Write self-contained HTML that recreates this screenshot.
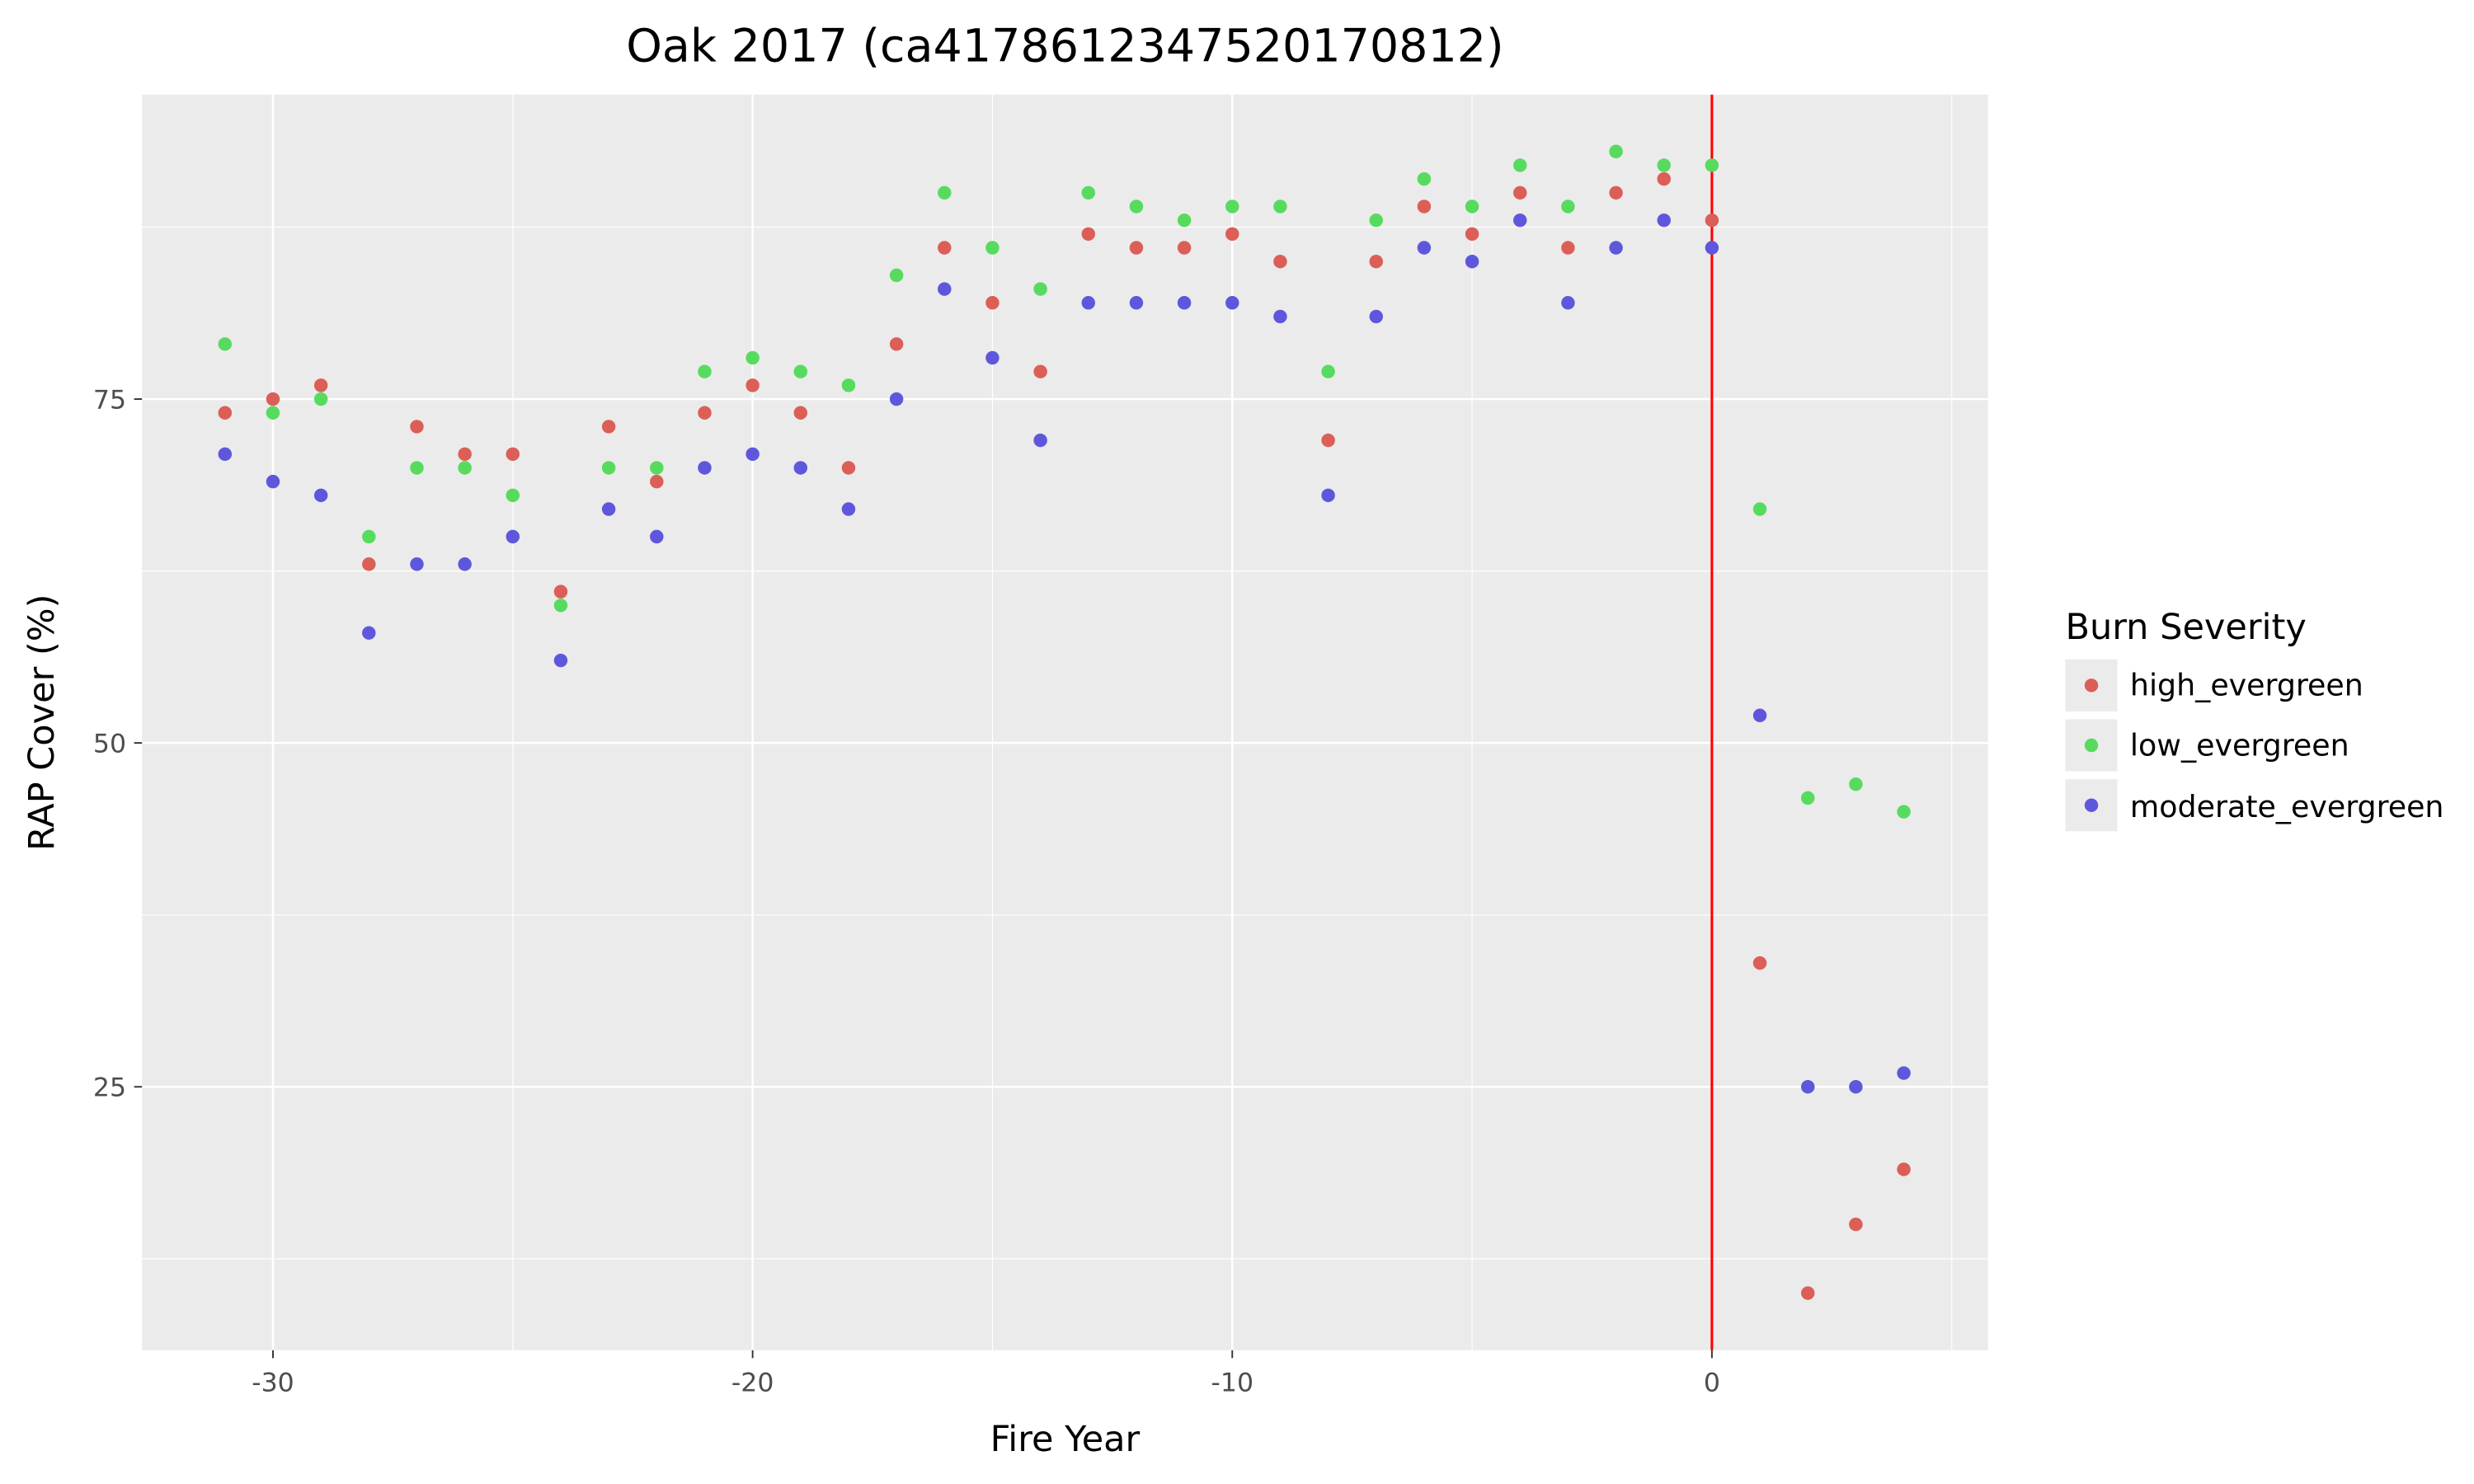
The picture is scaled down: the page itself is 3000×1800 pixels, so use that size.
<!DOCTYPE html>
<html><head><meta charset="utf-8"><style>html,body{margin:0;padding:0;background:#fff}svg{display:block}</style></head>
<body>
<svg id="s" xmlns="http://www.w3.org/2000/svg" width="3000" height="1800" viewBox="0 0 1568 940.8" preserveAspectRatio="none" font-family="DejaVu Sans, Liberation Sans, sans-serif">
<rect width="1568" height="941" fill="#fff"/>
<rect x="90" y="60" width="1170" height="796" fill="#ebebeb"/>
<g id="grid"></g>
<line x1="1085" y1="60" x2="1085" y2="856" stroke="#ff0000" stroke-width="1.6"/>
<g id="pts"></g>
<g font-size="16.5" fill="#4d4d4d" text-anchor="middle">
<text x="173" y="882">-30</text><text x="477" y="882">-20</text><text x="781" y="882">-10</text><text x="1085" y="882">0</text>
</g>
<g font-size="16.5" fill="#4d4d4d" text-anchor="end">
<text x="80" y="259">75</text><text x="80" y="477">50</text><text x="80" y="695">25</text>
</g>
<g stroke="#333" stroke-width="1">
<line x1="173" y1="856" x2="173" y2="861"/><line x1="477" y1="856" x2="477" y2="861"/><line x1="781" y1="856" x2="781" y2="861"/><line x1="1085" y1="856" x2="1085" y2="861"/>
<line x1="85" y1="253" x2="90" y2="253"/><line x1="85" y1="471" x2="90" y2="471"/><line x1="85" y1="689" x2="90" y2="689"/>
</g>
<text x="675" y="920" font-size="22.5" text-anchor="middle" fill="#000">Fire Year</text>
<text x="0" y="0" font-size="22.5" text-anchor="middle" fill="#000" transform="translate(34,458) rotate(-90)">RAP Cover (%)</text>
<text x="675" y="39" font-size="29" text-anchor="middle" fill="#000">Oak 2017 (ca4178612347520170812)</text>
<text x="1309" y="405" font-size="22.5" fill="#000">Burn Severity</text>
<rect x="1309" y="418" width="33" height="33" fill="#ebebeb"/>
<rect x="1309" y="456" width="33" height="33" fill="#ebebeb"/>
<rect x="1309" y="494" width="33" height="33" fill="#ebebeb"/>
<circle cx="1325.5" cy="434.5" r="4.3" fill="#db5f57"/>
<circle cx="1325.5" cy="472.5" r="4.3" fill="#57db5f"/>
<circle cx="1325.5" cy="510.5" r="4.3" fill="#5f57db"/>
<g font-size="19" fill="#000">
<text x="1350" y="441">high_evergreen</text>
<text x="1350" y="479">low_evergreen</text>
<text x="1350" y="518">moderate_evergreen</text>
</g>
</svg>
<script>
var X=v=>1085+30.4*v, Y=v=>471-(v-50)*8.72;
var g=document.getElementById('grid'),h='';
[12.5,37.5,62.5,87.5].forEach(v=>h+='<line x1="90" x2="1260" y1="'+Y(v)+'" y2="'+Y(v)+'" stroke="#fff" stroke-width="0.6"/>');
[-25,-15,-5,5].forEach(v=>h+='<line y1="60" y2="856" x1="'+X(v)+'" x2="'+X(v)+'" stroke="#fff" stroke-width="0.6"/>');
[25,50,75].forEach(v=>h+='<line x1="90" x2="1260" y1="'+Y(v)+'" y2="'+Y(v)+'" stroke="#fff" stroke-width="1.3"/>');
[-30,-20,-10,0].forEach(v=>h+='<line y1="60" y2="856" x1="'+X(v)+'" x2="'+X(v)+'" stroke="#fff" stroke-width="1.3"/>');
g.innerHTML=h;
var hi=[74,75,76,63,73,71,71,61,73,69,74,76,74,70,79,86,82,77,87,86,86,87,85,72,85,89,87,90,86,90,91,88,34,10,15,19];
var lo=[79,74,75,65,70,70,68,60,70,70,77,78,77,76,84,90,86,83,90,89,88,89,89,77,88,91,89,92,89,93,92,92,67,46,47,45];
var mo=[71,69,68,58,63,63,65,56,67,65,70,71,70,67,75,83,78,72,82,82,82,82,81,68,81,86,85,88,82,86,88,86,52,25,25,26];
var p='';
[[hi,'#db5f57'],[lo,'#57db5f'],[mo,'#5f57db']].forEach(function(s){s[0].forEach(function(v,i){p+='<circle cx="'+X(i-31)+'" cy="'+Y(v)+'" r="4.3" fill="'+s[1]+'"/>';});});
document.getElementById('pts').innerHTML=p;
</script>
</body></html>
